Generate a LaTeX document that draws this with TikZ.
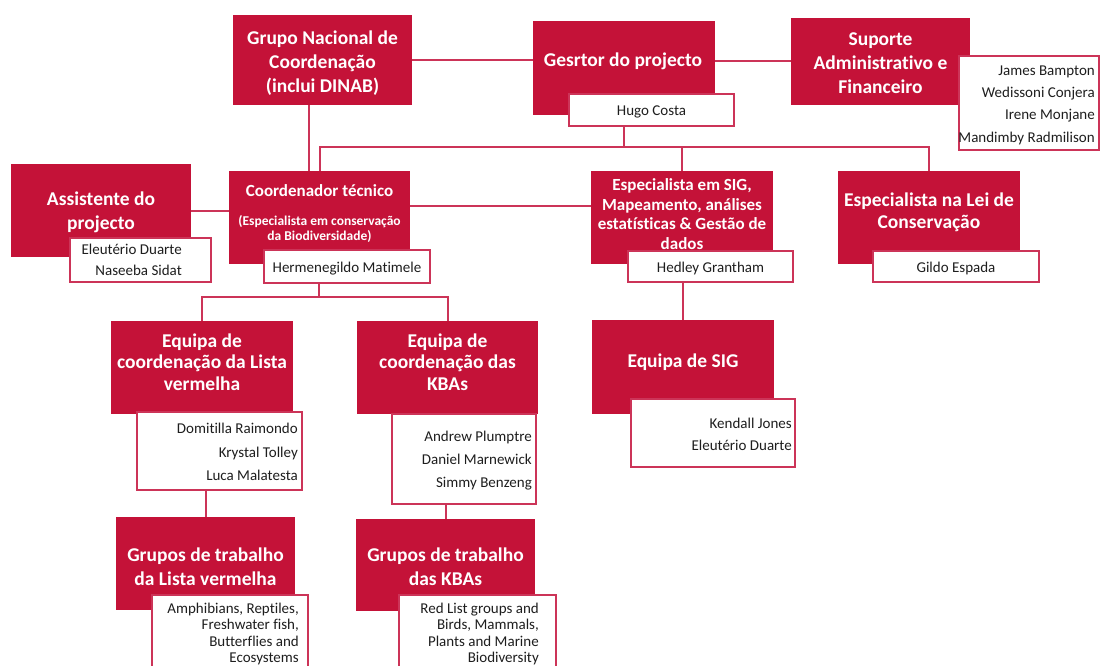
\documentclass[tikz,border=0pt]{standalone}
\usepackage{fontspec}
\setmainfont{Carlito}[Ligatures={NoCommon}]
\usetikzlibrary{fit,backgrounds}
\definecolor{boxred}{RGB}{196,18,56}
\definecolor{linered}{RGB}{204,52,88}
\definecolor{namegray}{RGB}{30,30,30}
\tikzset{
  redbox/.style={fill=boxred, draw=none, inner sep=0pt, outer sep=0pt},
  namebox/.style={fill=white, draw=linered, line width=1.5pt, inner sep=0pt, outer sep=0pt},
  ttl/.style={text=white, align=center, inner sep=0pt, yshift=-1.5pt, font=\bfseries\fontsize{19.5}{24}\selectfont},
  ttlsmall/.style={text=white, align=center, inner sep=0pt, yshift=-1.5pt, font=\bfseries\fontsize{17}{19.7}\selectfont},
  ttlsub/.style={text=white, align=center, inner sep=0pt, yshift=-1.5pt, font=\bfseries\fontsize{13.5}{15.5}\selectfont},
  nm/.style={text=namegray, align=right, inner sep=0pt, yshift=-1.5pt, font=\fontsize{15}{22.5}\selectfont},
  conn/.style={draw=linered, line width=2pt},
}
\begin{document}
\begin{tikzpicture}[x=1pt,y=-1pt]
\useasboundingbox (0,0) rectangle (1100,666);
\clip (0,0) rectangle (1100,666);

% red boxes
\node[redbox, fit={(233,15) (412,105)}] (grupo) {};
\node[redbox, fit={(533,21) (715,115)}] (gestor) {};
\node[redbox, fit={(791,18) (970,105)}] (suporte) {};
\node[redbox, fit={(11,164) (191,257)}] (asst) {};
\node[redbox, fit={(229,171) (410,264)}] (coord) {};
\node[redbox, fit={(591,171) (773,264)}] (sig) {};
\node[redbox, fit={(838,171) (1020,264)}] (lei) {};
\node[redbox, fit={(111,321) (293,414)}] (lista) {};
\node[redbox, fit={(357,321) (538,414)}] (kbaeq) {};
\node[redbox, fit={(592,320) (774,414)}] (sigeq) {};
\node[redbox, fit={(116,517) (295,610)}] (glista) {};
\node[redbox, fit={(356,519) (535,611)}] (gkba) {};

% titles
\node[ttl] (tgrupo) at (322.5,61.5) {Grupo Nacional de\\Coordenação\\(inclui DINAB)};
\node[ttl] (tgestor) at (623,60) {Gesrtor do projecto};
\node[ttl] (tsuporte) at (880.5,62) {Suporte\\Administrativo e\\Financeiro};
\node[ttl] (tasst) at (101,211) {Assistente do\\projecto};
\node[ttlsmall] (tcoord) at (319.5,189) {Coordenador técnico};
\node[ttlsub] (tcoordsub) at (319.5,227.5) {(Especialista em conservação\\da Biodiversidade)};
\node[ttlsmall] (tsig) at (682,212.5) {Especialista em SIG,\\Mapeamento, análises\\estatísticas \& Gestão de\\dados};
\node[ttl, font=\bfseries\fontsize{19.5}{22}\selectfont] (tlei) at (929,211) {Especialista na Lei de\\Conservação};
\node[ttl, font=\bfseries\fontsize{19.5}{21.7}\selectfont] (tlista) at (202,360.5) {Equipa de\\coordenação da Lista\\vermelha};
\node[ttl, font=\bfseries\fontsize{19.5}{21.7}\selectfont] (tkbaeq) at (447.5,360.5) {Equipa de\\coordenação das\\KBAs};
\node[ttl] (tsigeq) at (683,361) {Equipa de SIG};
\node[ttl] (tglista) at (205.5,565) {Grupos de trabalho\\da Lista vermelha};
\node[ttl] (tgkba) at (445.5,565) {Grupos de trabalho\\das KBAs};

% name boxes
\node[namebox, fit={(569,94) (734,126)}] (hugo) {};
\node[namebox, fit={(959,56) (1099,150)}] (supnames) {};
\node[namebox, fit={(70,238) (211,282)}] (asstnames) {};
\node[namebox, fit={(264,250) (430,283)}] (herm) {};
\node[namebox, fit={(628,251) (793,282)}] (hedley) {};
\node[namebox, fit={(873,251) (1039,282)}] (gildo) {};
\node[namebox, fit={(137,412) (302,490)}] (listanames) {};
\node[namebox, fit={(392,414) (536,504)}] (kbanames) {};
\node[namebox, fit={(631,399) (795,467)}] (signames) {};
\node[namebox, fit={(152,595) (308,690)}] (glistanames) {};
\node[namebox, fit={(399,595) (556,690)}] (gkbanames) {};

% names
\node[nm, align=center] (nhugo) at (651.5,110) {Hugo Costa};
\node[nm, anchor=east, font=\fontsize{15}{22.3}\selectfont] (nsup) at (1095,103.5) {James Bampton\\Wedissoni Conjera\\Irene Monjane\\Mandimby Radmilison};
\node[nm, anchor=east, font=\fontsize{15}{21}\selectfont] (nasst) at (182,258.5) {Eleutério Duarte\\Naseeba Sidat};
\node[nm, align=center] (nherm) at (347,267) {Hermenegildo Matimele};
\node[nm, align=center] (nhedley) at (710.5,266.5) {Hedley Grantham};
\node[nm, align=center] (ngildo) at (956,266.5) {Gildo Espada};
\node[nm, anchor=east, font=\fontsize{15}{23.5}\selectfont] (nlista) at (298,450.5) {Domitilla Raimondo\\Krystal Tolley\\Luca Malatesta};
\node[nm, anchor=east, font=\fontsize{15}{23}\selectfont] (nkba) at (532,459) {Andrew Plumptre\\Daniel Marnewick\\Simmy Benzeng};
\node[nm, anchor=east, font=\fontsize{15}{22}\selectfont] (nsig) at (792,433) {Kendall Jones\\Eleutério Duarte};
\node[nm, anchor=east, font=\fontsize{15}{16.3}\selectfont] (nglista) at (299,632.5) {Amphibians, Reptiles,\\Freshwater fish,\\Butterflies and\\Ecosystems};
\node[nm, anchor=east, font=\fontsize{15}{16.3}\selectfont] (ngkba) at (539,632.5) {Red List groups and\\Birds, Mammals,\\Plants and Marine\\Biodiversity};

% connectors
\coordinate (bus1) at (624,147);
\coordinate (bus2) at (319,297);
\coordinate (gdrop) at (309,105);
\begin{pgfonlayer}{background}
\fill[white] (0,0) rectangle (1100,666);
\draw[conn] (grupo.east) -- (grupo.east -| gestor.west);
\draw[conn] (suporte.west -| gestor.east) -- (suporte.west);
\draw[conn] (grupo.south -| gdrop) -- (coord.north -| gdrop);
\draw[conn] (hugo.south -| bus1) -- (bus1);
\draw[conn] (coord.north) |- (lei.north |- bus1) -- (lei.north);
\draw[conn] (sig.north) -- (sig.north |- bus1);
\draw[conn] (asst.east) -- (asst.east -| coord.west);
\draw[conn] ([yshift=11.5pt]coord.east) -- ([yshift=11.5pt]coord.east -| sig.west);
\draw[conn] (herm.south -| bus2) -- (bus2);
\draw[conn] (lista.north) |- (kbaeq.north |- bus2) -- (kbaeq.north);
\draw[conn] (hedley.south -| sigeq.north) -- (sigeq.north);
\draw[conn] (listanames.south -| glista.north) -- (glista.north);
\draw[conn] (kbanames.south -| gkba.north) -- (gkba.north);
\end{pgfonlayer}
\end{tikzpicture}
\end{document}
